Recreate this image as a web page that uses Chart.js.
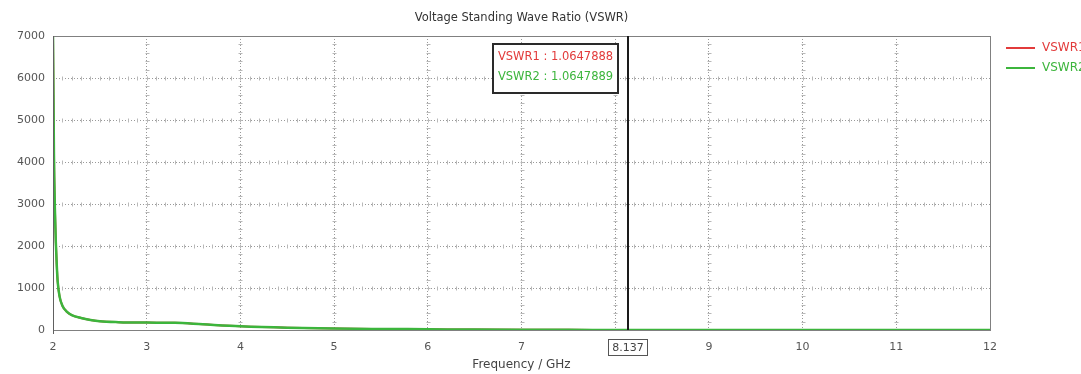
<!DOCTYPE html>
<html>
<head>
<meta charset="utf-8">
<script src="https://cdn.jsdelivr.net/npm/chart.js@4/dist/chart.umd.min.js"></script>
<style>
  html, body { margin: 0; padding: 0; background: #fff; overflow: hidden; }
  #wrap { width: 1081px; height: 374px; position: relative; }
</style>
</head>
<body>
<div id="wrap"><canvas id="c" width="1081" height="374"></canvas></div>
<script>
// Frequency sweep (GHz) and VSWR for both ports
const freqGHz = [2.0, 2.005, 2.01, 2.02, 2.03, 2.04, 2.05, 2.07, 2.1, 2.15, 2.2, 2.3, 2.4, 2.5, 2.7, 3.0, 3.3, 3.6, 4.0, 4.5, 5.0, 5.5, 6.0, 6.5, 7.0, 7.5, 8.0, 8.137, 8.5, 9.0, 10.0, 11.0, 12.0];
const vswr1   = [7000, 5600, 4200, 2900, 2100, 1550, 1150, 800, 580, 430, 355, 285, 238, 208, 187, 176, 170, 135, 90, 55, 35, 25, 18, 10, 5, 3, 1.5, 1.0647888, 1.2, 1.6, 2.2, 2.0, 1.8];
const vswr2   = [7000, 5600, 4200, 2900, 2100, 1550, 1150, 800, 580, 430, 355, 285, 238, 208, 187, 176, 170, 135, 90, 55, 35, 25, 18, 10, 5, 3, 1.5, 1.0647889, 1.2, 1.6, 2.2, 2.0, 1.8];
const seriesNames = ['VSWR1', 'VSWR2'];
const xTicks = [2, 3, 4, 5, 6, 7, 8, 9, 10, 11, 12];
const yTicks = [0, 1000, 2000, 3000, 4000, 5000, 6000, 7000];

// Marker readout
const markerFreq = 8.137;
const markerVswr1 = '1.0647888';
const markerVswr2 = '1.0647889';

const RED = '#e23b3b';
const GREEN = '#3cb53c';
const FONT = '"DejaVu Sans", Verdana, sans-serif';

const toXY = (vals) => freqGHz.map((f, i) => ({ x: f, y: vals[i] }));

const decorations = {
  id: 'decorations',
  beforeDatasetsDraw(chart) {
    const { ctx, scales: { x, y } } = chart;
    ctx.save();
    ctx.strokeStyle = '#b8b8b8';
    ctx.lineWidth = 1;
    ctx.beginPath();
    // small hash marks along the horizontal grid lines (every 0.1 GHz)
    yTicks.slice(1, -1).forEach(v => {
      const py = Math.round(y.getPixelForValue(v)) + 0.5;
      for (let f = 2; f <= 12.0001; f += 0.1) {
        const px = Math.round(x.getPixelForValue(f)) + 0.5;
        ctx.moveTo(px, py - 2); ctx.lineTo(px, py + 2);
      }
    });
    // small hash marks along the vertical grid lines (every 200)
    xTicks.slice(1, -1).forEach(v => {
      const px = Math.round(x.getPixelForValue(v)) + 0.5;
      for (let q = 0; q <= 7000; q += 200) {
        const py = Math.round(y.getPixelForValue(q)) + 0.5;
        ctx.moveTo(px - 2, py); ctx.lineTo(px + 2, py);
      }
    });
    ctx.stroke();
    ctx.restore();
  },
  afterDatasetsDraw(chart) {
    const { ctx, chartArea: a, scales: { x } } = chart;
    ctx.save();

    // plot frame
    ctx.strokeStyle = '#808080';
    ctx.lineWidth = 1;
    ctx.strokeRect(Math.round(a.left) + 0.5, Math.round(a.top) + 0.5,
                   Math.round(a.right - a.left), Math.round(a.bottom - a.top));
    ctx.strokeStyle = '#606060';
    ctx.beginPath();
    ctx.moveTo(Math.round(a.left) + 0.5, a.top);
    ctx.lineTo(Math.round(a.left) + 0.5, a.bottom + 4);
    ctx.stroke();

    // title
    ctx.fillStyle = '#333';
    ctx.font = '11.5px ' + FONT;
    ctx.textAlign = 'center';
    ctx.textBaseline = 'middle';
    ctx.fillText('Voltage Standing Wave Ratio (VSWR)', (a.left + a.right) / 2, 18);

    // marker line
    const mx = Math.round(x.getPixelForValue(markerFreq));
    ctx.strokeStyle = '#1a1a1a';
    ctx.lineWidth = 2;
    ctx.beginPath();
    ctx.moveTo(mx, a.top);
    ctx.lineTo(mx, a.bottom);
    ctx.stroke();

    // marker frequency tag on the axis
    ctx.font = '11px ' + FONT;
    const tag = String(markerFreq);
    const tw = ctx.measureText(tag).width + 8;
    ctx.fillStyle = '#fff';
    ctx.fillRect(mx - tw / 2, 339, tw, 16);
    ctx.strokeStyle = '#555';
    ctx.lineWidth = 1;
    ctx.strokeRect(Math.round(mx - tw / 2) + 0.5, 339.5, Math.round(tw), 16);
    ctx.fillStyle = '#444';
    ctx.textAlign = 'center';
    ctx.textBaseline = 'middle';
    ctx.fillText(tag, mx, 348);

    // marker readout box
    const bx = mx - 135, by = 44, bw = 125, bh = 49;
    ctx.fillStyle = '#fff';
    ctx.fillRect(bx, by, bw, bh);
    ctx.strokeStyle = '#2a2a2a';
    ctx.lineWidth = 2;
    ctx.strokeRect(bx, by, bw, bh);
    ctx.font = '11.5px ' + FONT;
    ctx.textAlign = 'center';
    ctx.fillStyle = RED;
    ctx.fillText(seriesNames[0] + ' : ' + markerVswr1, bx + bw / 2, 57);
    ctx.fillStyle = GREEN;
    ctx.fillText(seriesNames[1] + ' : ' + markerVswr2, bx + bw / 2, 77);

    // legend
    ctx.font = '12px ' + FONT;
    ctx.textAlign = 'left';
    [[RED, 48], [GREEN, 68]].forEach(([col, ly], i) => {
      ctx.strokeStyle = col;
      ctx.lineWidth = 2;
      ctx.beginPath();
      ctx.moveTo(1006, ly); ctx.lineTo(1035, ly);
      ctx.stroke();
      ctx.fillStyle = col;
      ctx.fillText(seriesNames[i], 1042, ly);
    });

    ctx.restore();
  }
};

new Chart(document.getElementById('c'), {
  type: 'line',
  data: {
    datasets: [
      { label: seriesNames[0], data: toXY(vswr1), borderColor: RED, borderWidth: 2, order: 1,
        pointRadius: 0, cubicInterpolationMode: 'monotone', fill: false },
      { label: seriesNames[1], data: toXY(vswr2), borderColor: GREEN, borderWidth: 2.5, order: 0,
        pointRadius: 0, cubicInterpolationMode: 'monotone', fill: false }
    ]
  },
  options: {
    responsive: false,
    animation: false,
    events: [],
    layout: { padding: { top: 36, right: 91, left: 0, bottom: 0 } },
    plugins: { legend: { display: false }, title: { display: false }, tooltip: { enabled: false } },
    scales: {
      x: {
        type: 'linear', min: 2, max: 12,
        afterFit(s) { s.height = 44; },
        afterBuildTicks(s) { s.ticks = xTicks.map(v => ({ value: v })); },
        ticks: { font: { size: 11, family: FONT }, color: '#555', padding: 11, maxRotation: 0,
                 callback: v => String(v) },
        grid: { color: '#9a9a9a', lineWidth: 1, drawTicks: false },
        border: { display: false, dash: [1, 2] },
        title: { display: true, text: 'Frequency / GHz', color: '#444',
                 font: { size: 12, family: FONT }, padding: { top: 0, bottom: 2 } }
      },
      y: {
        min: 0, max: 7000,
        afterFit(s) { s.width = 53; },
        afterBuildTicks(s) { s.ticks = yTicks.map(v => ({ value: v })); },
        ticks: { font: { size: 11, family: FONT }, color: '#555', padding: 8,
                 callback: v => String(v) },
        grid: { color: '#9a9a9a', lineWidth: 1, drawTicks: false },
        border: { display: false, dash: [1, 2] }
      }
    }
  },
  plugins: [decorations]
});
</script>
</body>
</html>
